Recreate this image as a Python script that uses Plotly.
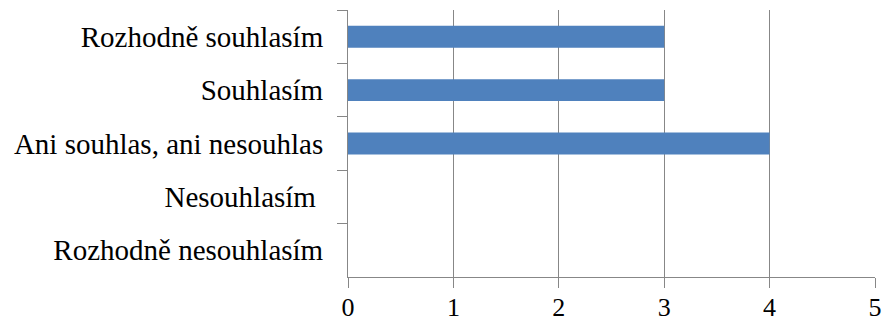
import plotly.graph_objects as go

# Survey answers (top to bottom) and number of responses
categories = [
    "Rozhodně souhlasím",
    "Souhlasím",
    "Ani souhlas, ani nesouhlas",
    "Nesouhlasím\u00a0",
    "Rozhodně nesouhlasím",
]
counts = [3, 3, 4, 0, 0]
x_ticks = [0, 1, 2, 3, 4, 5]

GRID = "#878787"
FONT_Y = dict(family="Liberation Serif, Times New Roman, serif", size=29, color="#000000")
FONT_X = dict(family="Liberation Serif, Times New Roman, serif", size=26, color="#000000")

fig = go.Figure(
    go.Bar(
        x=counts,
        y=categories,
        orientation="h",
        marker=dict(color="#4F81BD", line=dict(width=0)),
        hoverinfo="skip",
    )
)

fig.update_layout(
    width=882,
    height=323,
    margin=dict(l=348, r=7, t=10, b=46),
    paper_bgcolor="white",
    plot_bgcolor="white",
    bargap=0.59,
    showlegend=False,
    font=FONT_Y,
)

fig.update_xaxes(
    range=[0, 5],
    tickvals=x_ticks,
    ticktext=[str(v) for v in x_ticks],
    showgrid=True,
    gridcolor=GRID,
    gridwidth=1,
    zeroline=False,
    showline=True,
    linecolor=GRID,
    linewidth=1,
    ticks="outside",
    ticklen=10,
    tickcolor=GRID,
    tickfont=FONT_X,
    ticklabelstandoff=-3,
    automargin=False,
)

fig.update_yaxes(
    categoryorder="array",
    categoryarray=categories,
    autorange="reversed",
    showgrid=False,
    zeroline=False,
    showline=True,
    linecolor=GRID,
    linewidth=1,
    ticks="outside",
    tickson="boundaries",
    ticklen=10,
    tickcolor=GRID,
    tickfont=FONT_Y,
    ticklabelstandoff=18,
    automargin=False,
)

fig.write_html("out.html")
